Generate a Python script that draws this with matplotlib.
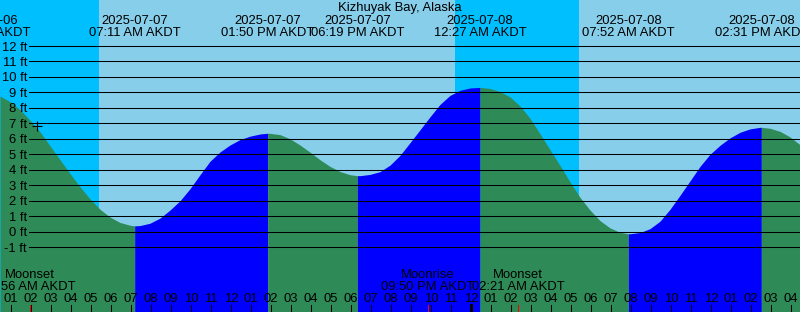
import datetime as dt
import numpy as np
import matplotlib
matplotlib.use('Agg')
import matplotlib.pyplot as plt

plt.rcParams['font.family'] = ['Liberation Sans', 'DejaVu Sans']
plt.rcParams['font.size'] = 9.4

station = 'Kizhuyak Bay, Alaska'
t0 = dt.datetime(2025, 7, 7, 0, 0)

# tide curve, hours after 2025-07-07 00:00
curve_hours = [0.45, 0.95, 1.45, 1.95, 2.45, 2.95, 3.45, 3.95, 4.45, 4.95,
               5.45, 5.95, 6.45, 6.95, 7.45, 7.95, 8.45, 8.95, 9.45, 9.95,
               10.45, 10.95, 11.45, 11.95, 12.45, 12.95, 13.45, 13.95, 14.45, 14.95,
               15.45, 15.95, 16.45, 16.95, 17.45, 17.95, 18.45, 18.95, 19.45, 19.95,
               20.45, 20.95, 21.45, 21.95, 22.45, 22.95, 23.45, 23.95, 24.45, 24.95,
               25.45, 25.95, 26.45, 26.95, 27.45, 27.95, 28.45, 28.95, 29.45, 29.95,
               30.45, 30.95, 31.45, 31.95, 32.45, 32.95, 33.45, 33.95, 34.45, 34.95,
               35.45, 35.95, 36.45, 36.95, 37.45, 37.95, 38.45, 38.95, 39.45, 39.95,
               40.45]
curve_ft = [8.76, 8.40, 7.88, 7.20, 6.45, 5.55, 4.65, 3.76, 2.90, 2.12,
            1.45, 0.95, 0.60, 0.42, 0.40, 0.55, 0.88, 1.40, 2.00, 2.78,
            3.68, 4.55, 5.15, 5.60, 5.95, 6.17, 6.31, 6.35, 6.27, 6.00,
            5.60, 5.14, 4.65, 4.22, 3.89, 3.68, 3.62, 3.70, 3.88, 4.30,
            4.93, 5.75, 6.58, 7.42, 8.22, 8.80, 9.13, 9.28, 9.32, 9.25,
            9.05, 8.70, 8.12, 7.32, 6.32, 5.30, 4.28, 3.22, 2.22, 1.40,
            0.72, 0.25, -0.04, -0.13, -0.05, 0.20, 0.68, 1.45, 2.35, 3.28,
            4.22, 5.00, 5.58, 6.06, 6.42, 6.64, 6.74, 6.68, 6.48, 6.12,
            5.62]

tide_times = ['2025-07-06 23:40', '2025-07-07 07:11', '2025-07-07 13:50',
              '2025-07-07 18:19', '2025-07-08 00:27', '2025-07-08 07:52',
              '2025-07-08 14:31']
tide_ft = [9.0, 0.38, 6.36, 3.62, 9.32, -0.13, 6.74]

sun_times = ['2025-07-07 05:24', '2025-07-07 23:12', '2025-07-08 05:24']
moon_names = ['Moonset', 'Moonrise', 'Moonset']
moon_times = ['2025-07-07 01:56', '2025-07-07 21:50', '2025-07-08 02:21']
mark_time, mark_ft = '2025-07-07 02:19', 6.82

levels = list(range(-1, 13))
x0, x1 = 0.45, 40.45
y0, y1 = -5.18, 14.96
H = 312.0


def hrs(s):
    return (dt.datetime.strptime(s, '%Y-%m-%d %H:%M') - t0).total_seconds() / 3600


def fy(px):
    # pixel row from the top -> axes fraction
    return 1 - px / H


fig = plt.figure(figsize=(8, 3.12), dpi=100)
ax = fig.add_axes([0, 0, 1, 1])
ax.set_xlim(x0, x1)
ax.set_ylim(y0, y1)
ax.axis('off')
xt = ax.get_xaxis_transform()

# day / night background
sun = [hrs(s) for s in sun_times]
ax.axvspan(x0, x1, color='#87CEEB', lw=0, zorder=0)
ax.axvspan(x0, sun[0], color='#00BFFF', lw=0, zorder=0)
ax.axvspan(sun[1], sun[2], color='#00BFFF', lw=0, zorder=0)

# tide fill, blue when rising, green when falling
ev = [hrs(s) for s in tide_times]
t = list(curve_hours)
y = list(curve_ft)
for h, f in zip(ev, tide_ft):
    if x0 < h < x1:
        t.append(h)
        y.append(f)
order = np.argsort(t)
t = np.array(t)[order]
y = np.array(y)[order]

bounds = ev + [x1 + 1]
rising = [tide_ft[i + 1] > tide_ft[i] for i in range(len(tide_ft) - 1)]
rising.append(not rising[-1])
for i in range(len(ev)):
    a, b = bounds[i], bounds[i + 1]
    m = (t >= a) & (t <= b)
    if m.sum() < 2:
        continue
    ax.fill_between(t[m], y[m], y0, color='#0000FF' if rising[i] else '#2E8B57',
                    lw=0, zorder=1)

# level lines
for lv in levels:
    ax.axhline(lv, xmin=29 / 800, color='black', lw=0.75, zorder=3)
    ax.text(27 / 800, lv - 0.30, f'{lv} ft', transform=ax.get_yaxis_transform(),
            ha='right', va='baseline', zorder=5)

ax.plot(hrs(mark_time), mark_ft, marker='+', color='black', ms=7, mew=0.8, zorder=4)

ax.text(0.5, fy(11), station, transform=ax.transAxes, ha='center', va='baseline', zorder=5)

# tide event labels
for s in tide_times:
    d = dt.datetime.strptime(s, '%Y-%m-%d %H:%M')
    h = hrs(s)
    ax.text(h, fy(24), d.strftime('%Y-%m-%d'), transform=xt, ha='center',
            va='baseline', zorder=5)
    ax.text(h, fy(36), d.strftime('%I:%M %p AKDT'), transform=xt, ha='center',
            va='baseline', zorder=5)

# hour ticks
for hr in range(1, 41):
    lab = '%02d' % ((hr - 1) % 12 + 1)
    ax.text(hr, fy(302), lab, transform=xt, ha='center', va='baseline', zorder=5)
    if hr % 24 == 0:
        ax.plot([hr, hr], [0, 7 / H], transform=xt, color='black', lw=2.2, zorder=5)
    else:
        ax.plot([hr, hr], [0, 7 / H], transform=xt, color='black', lw=0.75, zorder=5)

# moon events
for name, s in zip(moon_names, moon_times):
    d = dt.datetime.strptime(s, '%Y-%m-%d %H:%M')
    h = hrs(s)
    ax.text(h, fy(278), name, transform=xt, ha='center', va='baseline', zorder=5)
    ax.text(h, fy(290), d.strftime('%I:%M %p AKDT'), transform=xt, ha='center',
            va='baseline', zorder=5)
    ax.plot([h, h], [0, 7 / H], transform=xt, color='red', lw=0.75, zorder=6)

fig.savefig('out.png', dpi=100)
